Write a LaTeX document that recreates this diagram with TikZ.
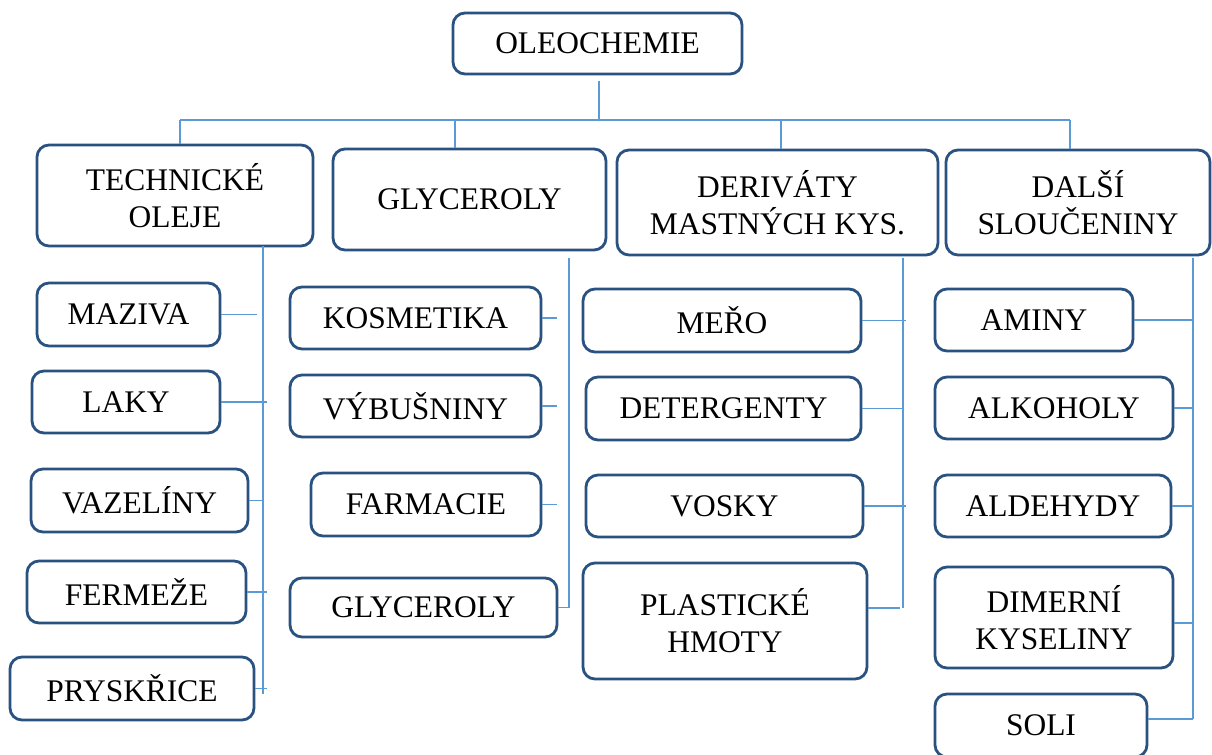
\documentclass[tikz,border=0pt]{standalone}
\usepackage{fontspec}
\setmainfont{Liberation Serif}
\definecolor{boxblue}{HTML}{2A5281}
\definecolor{linkblue}{HTML}{5B9BD5}
\begin{document}
\begin{tikzpicture}[x=0.75pt,y=-0.75pt,
  box/.style={draw=boxblue, line width=2.1pt, rounded corners=9pt, fill=white,
    inner sep=0pt, align=center, font=\fontsize{23.6pt}{27.8pt}\selectfont},
  sz/.style 2 args={minimum width=#1*0.75pt, minimum height=#2*0.75pt},
  link/.style={draw=linkblue, line width=1.1pt}]
\clip (0,0) rectangle (1212,754);
\fill[white] (0,0) rectangle (1212,754);
% top
\node[box, sz={289}{61}] (oleo) at (597.5,43.5) {OLEOCHEMIE};
% level 1
\node[box, sz={276}{101}] (tech) at (175,195.5) {TECHNICKÉ\\OLEJE};
\node[box, sz={273}{101}] (glyc) at (469.5,199.5) {GLYCEROLY};
\node[box, sz={321}{105}] (deriv) at (777.5,202.5) {DERIVÁTY\\MASTNÝCH KYS.};
\node[box, sz={264}{105}] (dalsi) at (1078,202.5) {DALŠÍ\\SLOUČENINY};
% column 1
\node[box, sz={183}{63}] (maziva) at (128.5,314.5) {MAZIVA};
\node[box, sz={188}{62}] (laky) at (126,402) {LAKY};
\node[box, sz={217}{63}] (vazel) at (139.5,500.5) {VAZELÍNY};
\node[box, sz={219}{62}] (ferm) at (136.5,592) {FERMEŽE};
\node[box, sz={244}{63}] (prysk) at (132,688.5) {PRYSKŘICE};
% column 2
\node[box, sz={251}{62}] (kosm) at (415.5,318) {KOSMETIKA};
\node[box, sz={251}{62}] (vybus) at (415.5,406) {VÝBUŠNINY};
\node[box, sz={230}{63}] (farm) at (426,504.5) {FARMACIE};
\node[box, sz={267}{59}] (glyc2) at (423.5,607.5) {GLYCEROLY};
% column 3
\node[box, sz={278}{63}] (mero) at (722,320.5) {MEŘO};
\node[box, sz={275}{63}] (deter) at (723.5,408.5) {DETERGENTY};
\node[box, sz={277}{62}] (vosky) at (724.5,506) {VOSKY};
\node[box, sz={284}{116}] (plast) at (725,621) {PLASTICKÉ\\HMOTY};
% column 4
\node[box, sz={198}{62}] (aminy) at (1034,320) {AMINY};
\node[box, sz={238}{62}] (alkoh) at (1054,408) {ALKOHOLY};
\node[box, sz={236}{62}] (aldeh) at (1053,506) {ALDEHYDY};
\node[box, sz={238}{101}] (dimer) at (1054,617.5) {DIMERNÍ\\KYSELINY};
\node[box, sz={212}{63}] (soli) at (1041,725.5) {SOLI};
% top bus
\coordinate (hub) at (599,120);
\coordinate (busL) at (180,120);
\coordinate (busR) at (1070,120);
\draw[link] ([yshift=-4.5pt]oleo.south -| hub) -- (hub);
\draw[link] (busL) -- (busR);
\draw[link] (busL) -- (busL |- tech.north);
\draw[link] (455,120) -- (455,0 |- glyc.north);
\draw[link] (781,120) -- (781,0 |- deriv.north);
\draw[link] (busR) -- (busR |- dalsi.north);
% column 1 trunk
\coordinate (t1a) at (263,246);
\coordinate (t1b) at (263,694);
\draw[link] (t1a) -- (t1b);
\draw[link] (maziva.east) -- (maziva.east -| 257,0);
\draw[link] (laky.east) -- (laky.east -| 267,0);
\draw[link] (vazel.east) -- (vazel.east -| t1a);
\draw[link] (ferm.east) -- (ferm.east -| 267,0);
\draw[link] (prysk.east) -- (prysk.east -| 267,0);
% column 2 trunk
\coordinate (t2a) at (569,258);
\coordinate (t2b) at (569,608);
\draw[link] (t2a) -- (t2b);
\draw[link] (kosm.east) -- (kosm.east -| 557,0);
\draw[link] (vybus.east) -- (vybus.east -| 557,0);
\draw[link] (farm.east) -- (farm.east -| 557,0);
\draw[link] (glyc2.east) -- (glyc2.east -| t2b);
% column 3 trunk
\coordinate (t3a) at (903,258);
\coordinate (t3b) at (903,608);
\draw[link] (t3a) -- (t3b);
\draw[link] (mero.east) -- (mero.east -| 906,0);
\draw[link] (deter.east) -- (deter.east -| t3a);
\draw[link] (vosky.east) -- (vosky.east -| 906,0);
\draw[link] ([yshift=9.75pt]plast.east) -- ([yshift=9.75pt]plast.east -| 900,0);
% column 4 trunk
\coordinate (t4a) at (1193,258);
\coordinate (t4b) at (1193,719);
\draw[link] (t4a) -- (t4b);
\draw[link] (aminy.east) -- (aminy.east -| t4a);
\draw[link] (alkoh.east) -- (alkoh.east -| t4a);
\draw[link] (aldeh.east) -- (aldeh.east -| t4a);
\draw[link] ([yshift=-4pt]dimer.east) -- ([yshift=-4pt]dimer.east -| t4a);
\draw[link] (soli.east |- t4b) -- (t4b);
\end{tikzpicture}
\end{document}
